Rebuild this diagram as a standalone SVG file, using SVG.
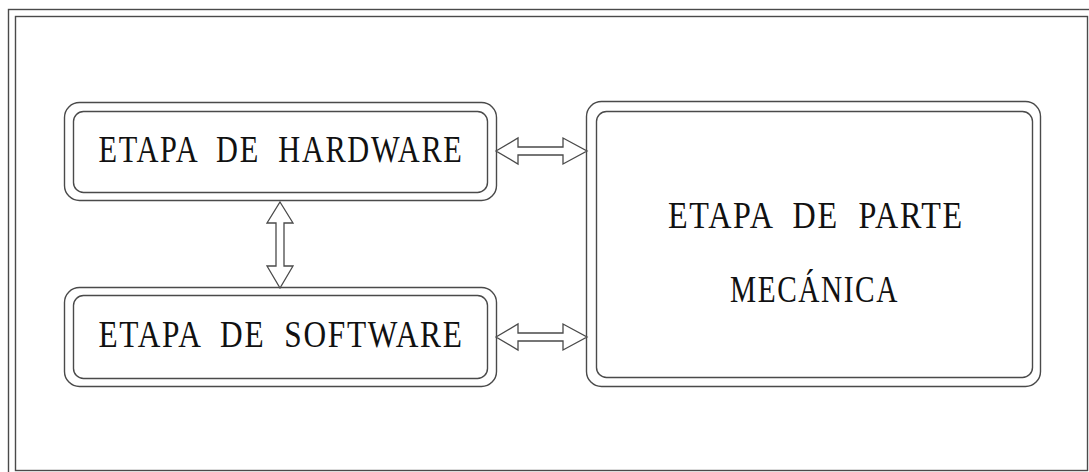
<svg xmlns="http://www.w3.org/2000/svg" width="1089" height="472" viewBox="0 0 1089 472">
  <style>
    .ln { fill: none; stroke: #4a4a4a; stroke-width: 1.4; }
    .arw { fill: #ffffff; stroke: #4a4a4a; stroke-width: 1.3; stroke-linejoin: miter; }
    .lbl { font-family: "Liberation Serif", "Times New Roman", serif; font-size: 37px; letter-spacing: 2px; white-space: pre; fill: #111111; text-anchor: middle; }
  </style>
  <rect x="0" y="0" width="1089" height="472" fill="#ffffff"/>

  <!-- double border frame -->
  <g id="frame">
    <rect class="ln" x="8.5" y="9.5" width="1090" height="470"/>
    <rect class="ln" x="15.5" y="16.5" width="1072" height="454"/>
  </g>

  <g id="hardware">
    <rect class="ln" x="64.5" y="102.5" width="432" height="98" rx="15"/>
    <rect class="ln" x="73.5" y="111.5" width="414" height="81" rx="10"/>
    <text class="lbl" x="281" y="162" textLength="365" lengthAdjust="spacingAndGlyphs" xml:space="preserve">ETAPA  DE  HARDWARE</text>
  </g>

  <g id="software">
    <rect class="ln" x="64.5" y="287.5" width="432" height="99" rx="15"/>
    <rect class="ln" x="73.5" y="295.5" width="414" height="83" rx="10"/>
    <text class="lbl" x="281" y="347" textLength="365" lengthAdjust="spacingAndGlyphs" xml:space="preserve">ETAPA  DE  SOFTWARE</text>
  </g>

  <g id="mecanica">
    <rect class="ln" x="586.5" y="101.5" width="454" height="285" rx="15"/>
    <rect class="ln" x="596.5" y="111.5" width="436" height="266" rx="10"/>
    <text class="lbl" x="816" y="228" textLength="296" lengthAdjust="spacingAndGlyphs" xml:space="preserve">ETAPA  DE  PARTE</text>
    <text class="lbl" x="814.5" y="302" textLength="169" lengthAdjust="spacingAndGlyphs">MECÁNICA</text>
  </g>

  <!-- hollow double-headed arrows -->
  <g id="connectors">
    <polygon class="arw" points="496,151 518,138 518,147 563,147 563,138 587,151 563,164 563,155 518,155 518,164"/>
    <polygon class="arw" points="496,337 518,324 518,333 563,333 563,324 587,337 563,350 563,341 518,341 518,350"/>
    <polygon class="arw" points="280,202 293,223 284,223 284,266 293,266 280,288 267,266 276,266 276,223 267,223"/>
  </g>
</svg>
